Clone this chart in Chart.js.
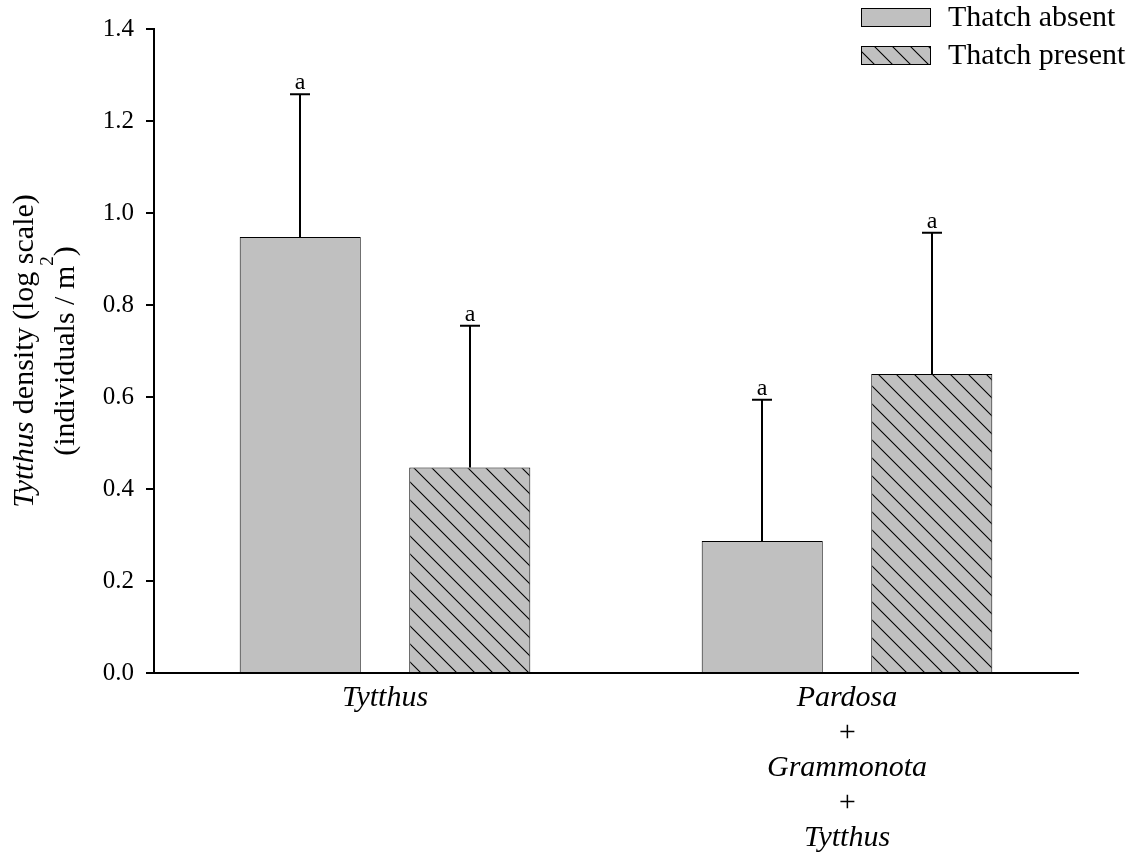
<!DOCTYPE html>
<html><head><meta charset="utf-8">
<script src="https://cdn.jsdelivr.net/npm/chart.js@4"></script>
<style>html,body{margin:0;padding:0;background:#fff}#wrap{width:1142px;height:854px;position:relative}</style>
</head><body><div id="wrap"><canvas id="c" width="1142" height="854"></canvas></div>
<script>
// ---- data ----
const categories = [["Tytthus"], ["Pardosa", "+", "Grammonota", "+", "Tytthus"]];
const seriesNames = ["Thatch absent", "Thatch present"];
const thatchAbsent = [0.948, 0.287];
const thatchPresent = [0.447, 0.650];
const errAbsent = [0.310, 0.307];
const errPresent = [0.308, 0.307];
const lettersAbsent = ["a", "a"];
const lettersPresent = ["a", "a"];
const yTickValues = [0.0, 0.2, 0.4, 0.6, 0.8, 1.0, 1.2, 1.4];
const yTitleItalic = "Tytthus";
const yTitleRest = " density (log scale)";
const yTitleLine2 = "(individuals / m";
const yTitleSup = "2";

const SERIF = '"Liberation Serif", "Times New Roman", serif';
const GRAY = '#c0c0c0';

function makeHatch() {
  const d = 18;
  const c = document.createElement('canvas');
  c.width = d; c.height = d;
  const x = c.getContext('2d');
  x.fillStyle = GRAY; x.fillRect(0, 0, d, d);
  x.strokeStyle = '#000'; x.lineWidth = 1.1;
  x.beginPath();
  for (const a of [-d, 0, d]) { x.moveTo(a - 2, -2); x.lineTo(a + d + 2, d + 2); }
  x.stroke();
  return x.createPattern(c, 'repeat');
}
const hatch = makeHatch();

const errors = [errAbsent, errPresent];
const letters = [lettersAbsent, lettersPresent];

const errorBarPlugin = {
  id: 'errbars',
  afterDatasetsDraw(chart) {
    const ctx = chart.ctx, ys = chart.scales.y;
    ctx.save();
    chart.data.datasets.forEach((ds, i) => {
      const meta = chart.getDatasetMeta(i);
      meta.data.forEach((el, j) => {
        const v = ds.data[j], e = errors[i][j];
        const yt = ys.getPixelForValue(v + e);
        const x = Math.round(el.x);
        ctx.strokeStyle = '#000'; ctx.lineWidth = 2;
        ctx.beginPath();
        ctx.moveTo(x, el.y); ctx.lineTo(x, yt);
        ctx.moveTo(x - 10, yt); ctx.lineTo(x + 10, yt);
        ctx.stroke();
        ctx.fillStyle = '#000';
        ctx.font = '24px ' + SERIF;
        ctx.textAlign = 'center'; ctx.textBaseline = 'alphabetic';
        ctx.fillText(letters[i][j], x, yt - 5);
      });
    });
    ctx.restore();
  }
};

const yTitlePlugin = {
  id: 'ytitle',
  afterDraw(chart) {
    const ctx = chart.ctx;
    const ca = chart.chartArea;
    const cy = (ca.top + ca.bottom) / 2;
    const fI = 'italic 30px ' + SERIF, fR = '30px ' + SERIF, fS = '19px ' + SERIF;
    ctx.save();
    ctx.fillStyle = '#000';
    ctx.textBaseline = 'alphabetic';
    ctx.textAlign = 'left';
    ctx.font = fI; const w1 = ctx.measureText(yTitleItalic).width;
    ctx.font = fR; const w2 = ctx.measureText(yTitleRest).width;
    ctx.translate(33, cy); ctx.rotate(-Math.PI / 2);
    let sx = -(w1 + w2) / 2;
    ctx.font = fI; ctx.fillText(yTitleItalic, sx, 0);
    ctx.font = fR; ctx.fillText(yTitleRest, sx + w1, 0);
    ctx.restore();

    ctx.save();
    ctx.fillStyle = '#000';
    ctx.textBaseline = 'alphabetic';
    ctx.textAlign = 'left';
    ctx.font = fR; const a = ctx.measureText(yTitleLine2).width; const c = ctx.measureText(')').width;
    ctx.font = fS; const b = ctx.measureText(yTitleSup).width;
    ctx.translate(74, cy); ctx.rotate(-Math.PI / 2);
    sx = -(a + b + c) / 2;
    ctx.font = fR; ctx.fillText(yTitleLine2, sx, 0);
    ctx.font = fS; ctx.fillText(yTitleSup, sx + a, -21);
    ctx.font = fR; ctx.fillText(')', sx + a + b, 0);
    ctx.restore();
  }
};

const legendPlugin = {
  id: 'customLegend',
  afterDraw(chart) {
    const ctx = chart.ctx;
    ctx.save();
    chart.data.datasets.forEach((ds, i) => {
      const y = 8 + i * 38;
      ctx.fillStyle = ds.backgroundColor;
      ctx.fillRect(861, y, 70, 19);
      ctx.strokeStyle = '#000'; ctx.lineWidth = 1;
      ctx.strokeRect(861.5, y + 0.5, 69, 18);
      ctx.fillStyle = '#000';
      ctx.font = '30px ' + SERIF;
      ctx.textAlign = 'left'; ctx.textBaseline = 'middle';
      ctx.fillText(ds.label, 948, y + 10);
    });
    ctx.restore();
  }
};

new Chart(document.getElementById('c'), {
  type: 'bar',
  data: {
    labels: categories,
    datasets: [
      { label: seriesNames[0], data: thatchAbsent, backgroundColor: GRAY, borderColor: '#000', borderWidth: 1, borderSkipped: 'bottom' },
      { label: seriesNames[1], data: thatchPresent, backgroundColor: hatch, borderColor: '#000', borderWidth: 1, borderSkipped: 'bottom' }
    ]
  },
  options: {
    responsive: false,
    animation: false,
    devicePixelRatio: 1,
    categoryPercentage: 0.734,
    barPercentage: 0.714,
    layout: { padding: { left: 0, right: 64, top: 29, bottom: 0 } },
    plugins: { legend: { display: false }, tooltip: { enabled: false } },
    scales: {
      x: {
        grid: { display: false, drawTicks: false },
        border: { display: true, color: '#000', width: 2 },
        ticks: { color: '#000', font: { family: SERIF, size: 30, style: 'italic', lineHeight: 1.167 }, padding: 8, maxRotation: 0, autoSkip: false },
        afterFit(s) { s.height = 181; }
      },
      y: {
        min: 0, max: 1.4,
        afterBuildTicks(s) { s.ticks = yTickValues.map(v => ({ value: v })); },
        grid: { display: true, drawOnChartArea: false, drawTicks: true, tickLength: 8, color: '#000', lineWidth: 2 },
        border: { display: true, color: '#000', width: 2 },
        ticks: { color: '#000', font: { family: SERIF, size: 25 }, padding: 12, callback: v => Number(v).toFixed(1) },
        afterFit(s) { s.width = 154; }
      }
    }
  },
  plugins: [errorBarPlugin, yTitlePlugin, legendPlugin]
});
</script>
</body></html>
